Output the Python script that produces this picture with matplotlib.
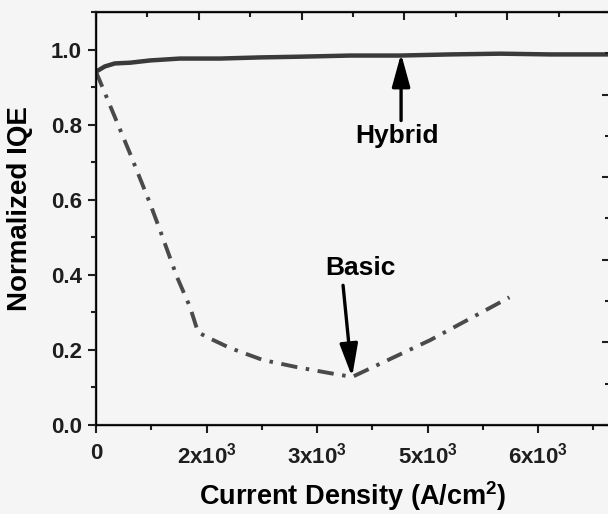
import numpy as np
import matplotlib
matplotlib.use("Agg")
from matplotlib import pyplot as plt
from matplotlib.ticker import MultipleLocator

plt.rcParams['font.family'] = ['Liberation Sans', 'DejaVu Sans']
plt.rcParams['font.weight'] = 'bold'
plt.rcParams['mathtext.fontset'] = 'custom'
plt.rcParams['mathtext.rm'] = 'Liberation Sans:bold'
plt.rcParams['mathtext.bf'] = 'Liberation Sans:bold'

# dati (densita' di corrente in unita' dell'asse, IQE normalizzata)
hybrid_x = [0, 80, 170, 310, 490, 760, 1120, 1480, 1850, 2300, 2750, 3200, 3660, 4110, 4650]
hybrid_y = [0.941, 0.955, 0.963, 0.965, 0.971, 0.976, 0.976, 0.979, 0.981, 0.984, 0.984, 0.987, 0.989, 0.987, 0.987]

basic_x = [0, 308, 489, 579, 733, 851, 923, 1005, 1213, 1511, 1819, 2118, 2317, 3023, 3740]
basic_y = [0.941, 0.723, 0.590, 0.519, 0.394, 0.314, 0.247, 0.234, 0.205, 0.173, 0.154, 0.138, 0.128, 0.226, 0.340]

xtick_pos = [0, 1000, 2000, 3000, 4000]
xtick_lab = ['0', r'2x10$^3$', r'3x10$^3$', r'5x10$^3$', r'6x10$^3$']
ytick_pos = [0.0, 0.2, 0.4, 0.6, 0.8, 1.0]

bg = '#f5f5f5'
fig = plt.figure(figsize=(6.08, 5.14), dpi=100, facecolor=bg)
ax = fig.add_axes([96/608, 89/514, 514/608, 413/514], facecolor=bg)

ax.plot(hybrid_x, hybrid_y, color='#3a3a3a', lw=3.2, solid_capstyle='round')
ax.plot(basic_x, basic_y, color='#4a4a4a', lw=2.8, ls=(0, (4.2, 2.2, 0.9, 2.2)))

ax.set_xlim(0, 4650)
ax.set_ylim(0, 1.1)
ax.set_xticks(xtick_pos)
ax.set_xticklabels(xtick_lab)
ax.xaxis.set_minor_locator(MultipleLocator(500))
ax.set_yticks(ytick_pos)
ax.set_yticklabels(['%.1f' % v for v in ytick_pos])
ax.yaxis.set_minor_locator(MultipleLocator(0.1))
ax.tick_params(which='both', direction='out', width=1.5, labelsize=16, colors='#1e1e1e')
ax.tick_params(which='major', length=6)
ax.tick_params(which='minor', length=3.5)
ax.tick_params(axis='x', pad=7)
ax.tick_params(axis='y', pad=4)

ax.set_xlabel('Current Density (A/cm$^2$)', fontsize=19.5, fontweight='bold', va='top')
ax.xaxis.set_label_coords(0.5, -0.131)
ax.set_ylabel('Normalized IQE', fontsize=20, fontweight='bold')
ax.yaxis.set_label_coords(-0.123, 0.523)

for s in ax.spines.values():
    s.set_linewidth(1.6)
    s.set_color('#1e1e1e')

# assi secondari (sopra e a destra), solo tacche
axt = ax.twiny()
axt.set_xlim(0, 5.0)
axt.xaxis.set_major_locator(MultipleLocator(1))
axt.xaxis.set_minor_locator(MultipleLocator(0.5))
axt.tick_params(which='both', direction='in', width=1.5, labeltop=False, colors='#1e1e1e')
axt.tick_params(which='major', length=6)
axt.tick_params(which='minor', length=3.5)

axr = ax.twinx()
axr.set_ylim(0, 5.0)
axr.yaxis.set_major_locator(MultipleLocator(1))
axr.yaxis.set_minor_locator(MultipleLocator(0.5))
axr.tick_params(which='both', direction='in', width=1.5, labelright=False, colors='#1e1e1e')
axr.tick_params(which='major', length=6)
axr.tick_params(which='minor', length=3.5)

# annotazioni
freccia = dict(arrowstyle='-|>,head_length=2.0,head_width=0.55', color='black', lw=2.4,
               shrinkA=0, shrinkB=0)
ax.annotate('', xy=(2760, 0.989), xytext=(2760, 0.811), arrowprops=freccia)
ax.text(2724, 0.771, 'Hybrid', ha='center', va='center', fontsize=19, fontweight='bold')
ax.annotate('', xy=(2317, 0.128), xytext=(2235, 0.372), arrowprops=freccia)
ax.text(2390, 0.418, 'Basic', ha='center', va='center', fontsize=19, fontweight='bold')

plt.savefig('out.png', dpi=100, facecolor=bg)
plt.close()
